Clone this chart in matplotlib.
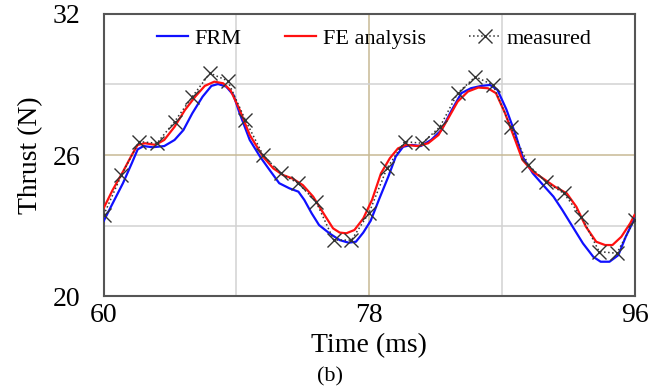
import matplotlib
matplotlib.use("Agg")
import matplotlib.pyplot as plt
from matplotlib.ticker import FixedLocator

plt.rcParams["font.family"] = ["Liberation Serif", "DejaVu Serif"]

# FRM (blue)
frm_t = [60.0, 60.6, 61.3, 61.9, 62.3, 62.7, 63.3, 64.1, 64.8, 65.4, 66.0, 66.7,
         67.3, 67.75, 68.3, 68.8, 69.2, 69.9, 70.6, 71.25, 71.9, 72.6, 73.2, 73.6,
         74.1, 74.6, 75.3, 76.0, 76.6, 77.1, 77.6, 78.1, 78.7, 79.3, 79.8, 80.3,
         80.9, 81.5, 82.2, 82.9, 83.6, 84.25, 84.9, 85.6, 86.2, 86.7, 87.3, 87.9,
         88.4, 89.1, 89.8, 90.5, 91.1, 91.8, 92.5, 93.2, 93.7, 94.3, 94.9, 95.4, 96.0]
frm_v = [23.2, 23.94, 24.8, 25.65, 26.24, 26.38, 26.33, 26.38, 26.64, 27.06, 27.77, 28.48,
         28.94, 29.02, 28.91, 28.55, 27.8, 26.64, 25.93, 25.36, 24.8, 24.58, 24.44, 24.09,
         23.52, 23.02, 22.67, 22.38, 22.27, 22.31, 22.7, 23.2, 24.16, 25.08, 25.93, 26.35,
         26.43, 26.38, 26.64, 27.06, 27.91, 28.63, 28.84, 28.94, 28.98, 28.77, 27.95, 26.92,
         25.93, 25.22, 24.72, 24.23, 23.66, 22.95, 22.24, 21.67, 21.46, 21.46, 21.74, 22.52, 23.3]

# FE analysis (red)
fe_t = [60.0, 60.6, 61.3, 61.9, 62.3, 62.8, 63.5, 64.1, 64.8, 65.5, 66.2, 66.85,
        67.5, 68.1, 68.6, 69.2, 69.9, 70.8, 71.5, 72.15, 72.8, 73.5, 74.2, 74.9,
        75.55, 76.0, 76.45, 77.0, 77.6, 78.2, 78.8, 79.4, 79.95, 80.5, 81.3, 82.0,
        82.7, 83.3, 84.0, 84.7, 85.4, 86.05, 86.6, 87.2, 87.9, 88.4, 89.1, 89.8,
        90.6, 91.4, 92.05, 92.7, 93.4, 94.0, 94.5, 95.1, 95.7, 96.0]
fe_v = [23.75, 24.51, 25.29, 26.0, 26.43, 26.5, 26.43, 26.64, 27.2, 27.91, 28.48, 28.94,
        29.12, 29.05, 28.75, 27.95, 26.85, 25.93, 25.43, 25.15, 25.0, 24.72, 24.23, 23.52,
        22.88, 22.7, 22.67, 22.81, 23.3, 24.1, 25.22, 25.86, 26.28, 26.43, 26.38, 26.5,
        26.85, 27.49, 28.27, 28.7, 28.87, 28.84, 28.63, 27.8, 26.64, 25.79, 25.29, 25.0,
        24.65, 24.37, 23.8, 22.95, 22.31, 22.17, 22.17, 22.52, 23.09, 23.45]

# measured
meas_t = [60.0, 61.2, 62.4, 63.6, 64.8, 66.0, 67.2, 68.4, 69.6, 70.8, 72.0, 73.2,
          74.4, 75.6, 76.8, 78.0, 79.2, 80.4, 81.6, 82.8, 84.0, 85.2, 86.4, 87.6,
          88.8, 90.0, 91.2, 92.4, 93.6, 94.8, 96.0]
meas_v = [23.45, 25.15, 26.57, 26.5, 27.42, 28.48, 29.48, 29.16, 27.49, 26.0, 25.22, 24.79,
          24.01, 22.38, 22.38, 23.55, 25.43, 26.57, 26.5, 27.2, 28.63, 29.33, 28.98, 27.2,
          25.57, 24.86, 24.37, 23.37, 21.89, 21.82, 23.23]

x_ticks = [60, 78, 96]
x_minor = [69, 87]
y_ticks = [20, 26, 32]
y_minor = [23, 29]

fig = plt.figure(figsize=(6.61, 3.88), dpi=100)
ax = fig.add_axes([0.157, 0.237, 0.803, 0.727])

ax.plot(frm_t, frm_v, color="#1010ff", lw=1.6, label="FRM", zorder=3)
ax.plot(fe_t, fe_v, color="#ff1010", lw=1.6, label="FE analysis", zorder=4)
ax.plot(meas_t, meas_v, color="#333333", ls=":", lw=1.1, marker="x", ms=10,
        mew=1.0, label="measured", zorder=5)

ax.set_xlim(60, 96)
ax.set_ylim(20, 32)
ax.xaxis.set_major_locator(FixedLocator(x_ticks))
ax.xaxis.set_minor_locator(FixedLocator(x_minor))
ax.yaxis.set_major_locator(FixedLocator(y_ticks))
ax.yaxis.set_minor_locator(FixedLocator(y_minor))
ax.grid(which="major", color="#c8b994", lw=1.1)
ax.grid(which="minor", color="#d2d2d2", lw=1.1)
ax.set_axisbelow(True)
ax.tick_params(which="both", length=0)
ax.tick_params(axis="y", labelsize=20, pad=17)
ax.tick_params(axis="x", labelsize=20, pad=5)
for s in ax.spines.values():
    s.set_color("#555555")
    s.set_linewidth(1.5)

ax.set_xlabel("Time (ms)", fontsize=20, labelpad=4)
ax.set_ylabel("Thrust (N)", fontsize=20, labelpad=7)

ax.legend(loc="upper center", ncol=3, frameon=False, fontsize=16,
          handlelength=1.4, handletextpad=0.3, columnspacing=1.95,
          bbox_to_anchor=(0.51, 1.02))

fig.text(0.5, 0.03, "(b)", ha="center", va="center", fontsize=16)

fig.savefig("out.png", dpi=100)
